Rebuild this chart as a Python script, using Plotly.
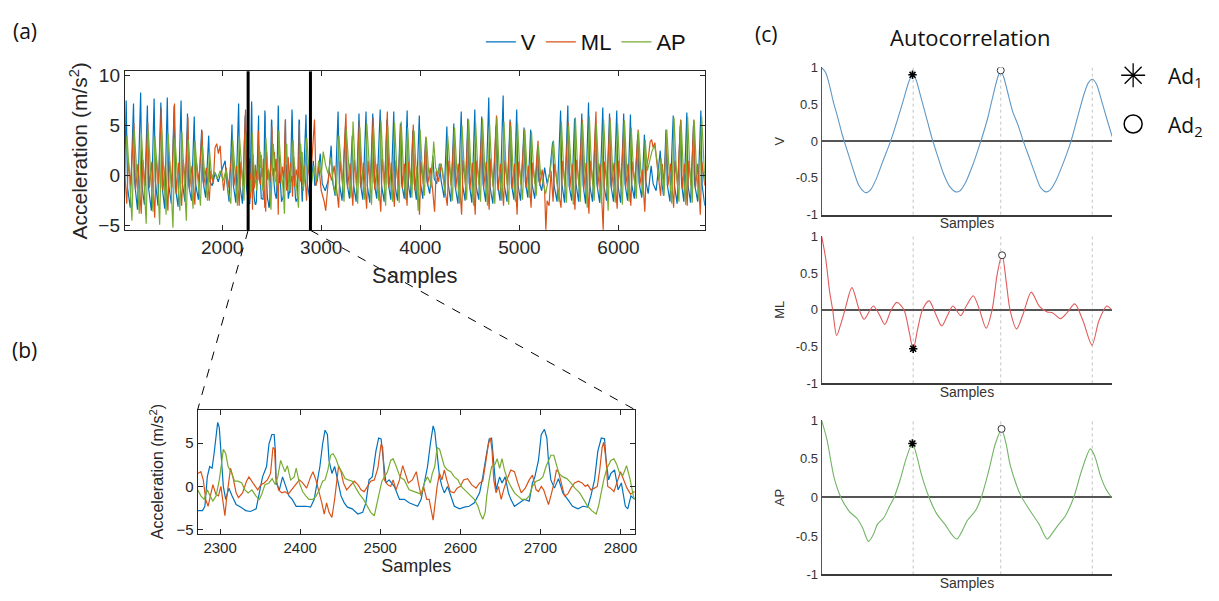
import plotly.graph_objects as go

# ------------------------------------------------------------------ DATA
# (a) full recording: (sample, acceleration) vertices, before and after the zoomed window
v_pre = [(1015,-1.0),(1031,7.5),(1045,-1.2),(1072,-3.2),(1105,7.2),(1118,-0.8),(1145,-3.4),(1177,8.3),(1190,-1.0),
         (1215,-2.9),(1245,7.0),(1258,-1.3),(1285,-3.5),(1313,7.7),(1326,-0.6),(1352,-3.0),(1381,7.3),(1394,-1.1),
         (1420,-3.3),(1446,7.8),(1460,-0.9),(1487,-2.8),(1515,7.0),(1528,-1.2),(1555,-3.1),(1585,7.5),(1598,-0.7),
         (1624,-2.6),(1650,6.2),(1663,-1.0),(1690,-2.5),(1718,5.9),(1731,-0.8),(1760,-2.4),(1793,4.6),(1806,-0.5),
         (1833,-2.2),(1864,4.0),(1877,-0.6),(1900,-1.0),(1930,0.3),(1960,-0.6),(1990,0.4),(2030,1.5),(2045,-0.5),
         (2070,-2.6),(2099,5.1),(2112,-0.9),(2138,-2.7),(2166,7.2),(2179,-1.0),(2205,-2.8),(2232,6.0),(2245,-1.2),
         (2268,-2.8)]
v_post = [(2846,6.1),(2859,-0.8),(2885,-2.4),(2920,1.5),(2935,-1.0),(2960,-0.5),(2990,2.2),(3010,-0.8),(3040,-1.5),
          (3070,-0.5),(3100,3.0),(3115,-0.6),(3140,-2.0),(3170,6.4),(3183,-0.8),(3210,-2.5),(3245,4.9),(3258,-0.6),
          (3285,-2.3),(3313,4.0),(3326,-0.9),(3352,-2.6),(3381,6.2),(3394,-0.7),(3420,-2.4),(3452,6.4),(3465,-1.0),
          (3490,-2.7),(3520,6.2),(3533,-0.6),(3560,-2.3),(3595,6.6),(3608,-0.9),(3635,-2.6),(3663,5.6),(3676,-0.7),
          (3702,-2.4),(3732,6.4),(3745,-1.0),(3770,-2.5),(3799,5.2),(3812,-0.8),(3838,-2.3),(3867,6.5),(3880,-0.9),
          (3900,-2.2),(3925,4.5),(3938,-0.7),(3960,-2.4),(3990,6.0),(4003,-0.8),(4025,-2.3),(4053,3.5),(4066,-0.5),
          (4095,-1.8),(4127,2.0),(4140,-0.3),(4165,-0.8),(4194,1.2),(4210,-0.5),(4240,-2.2),(4268,4.9),(4281,-0.8),
          (4308,-2.6),(4338,5.2),(4351,-1.0),(4380,-2.8),(4413,6.4),(4426,-0.9),(4452,-2.5),(4480,5.7),(4493,-0.7),
          (4520,-2.7),(4550,6.6),(4563,-1.0),(4590,-2.4),(4620,5.9),(4633,-0.8),(4660,-2.6),(4691,7.8),(4704,-1.1),
          (4732,-2.8),(4765,5.0),(4778,-0.7),(4805,-2.5),(4836,8.0),(4849,-1.0),(4875,-2.6),(4906,5.6),(4919,-0.8),
          (4945,-2.4),(4973,6.6),(4986,-0.9),(5012,-2.5),(5047,4.8),(5060,-0.6),(5085,-2.2),(5114,4.6),(5127,-0.8),
          (5155,-2.3),(5184,2.8),(5197,-0.5),(5225,-1.5),(5255,0.8),(5280,-0.8),(5305,0.2),(5336,3.4),(5349,-0.9),
          (5380,-2.6),(5416,6.5),(5429,-0.8),(5456,-2.7),(5489,7.0),(5502,-1.0),(5528,-2.5),(5557,5.7),(5570,-0.7),
          (5598,-2.6),(5630,6.2),(5643,-0.9),(5668,-2.8),(5698,7.3),(5711,-1.0),(5738,-2.6),(5769,5.0),(5782,-0.8),
          (5810,-2.7),(5842,6.8),(5855,-1.1),(5880,-2.5),(5910,6.2),(5923,-0.9),(5950,-2.6),(5983,6.5),(5996,-1.0),
          (6022,-2.7),(6053,6.2),(6066,-0.8),(6092,-2.5),(6121,6.1),(6134,-0.9),(6160,-2.3),(6195,4.1),(6208,-0.7),
          (6235,-2.2),(6262,4.1),(6275,-0.5),(6300,-1.8),(6330,1.0),(6350,-0.8),(6380,-1.5),(6422,2.5),(6435,-0.5),
          (6455,-2.0),(6480,4.6),(6493,-0.9),(6520,-2.6),(6553,6.0),(6566,-1.0),(6592,-2.8),(6624,5.0),(6637,-0.8),
          (6660,-2.6),(6690,6.3),(6703,-1.0),(6728,-2.7),(6757,5.0),(6770,-0.9),(6800,-2.6),(6832,6.5),(6845,-1.0),
          (6872,-3.0)]

ml_pre = [(1015,0.5),(1037,-2.8),(1053,1.5),(1076,-1.0),(1109,5.2),(1125,-1.5),(1150,1.2),(1183,-3.8),(1199,1.6),
          (1222,-1.0),(1249,5.3),(1265,-1.2),(1290,1.4),(1319,-4.2),(1335,1.8),(1358,-0.8),(1385,6.8),(1401,-1.5),
          (1426,1.0),(1452,-3.5),(1468,1.5),(1492,-1.2),(1519,7.2),(1535,-1.8),(1560,1.3),(1591,-3.0),(1607,1.6),
          (1630,-0.8),(1654,5.8),(1670,-1.4),(1695,1.0),(1724,-2.9),(1740,1.4),(1765,-0.6),(1797,4.5),(1813,-1.0),
          (1840,0.8),(1870,-2.5),(1886,0.5),(1910,-0.8),(1928,2.8),(1945,3.2),(1962,2.2),(1980,3.0),(1995,0.5),
          (2015,-1.5),(2040,0.8),(2065,-1.2),(2103,3.0),(2119,-1.0),(2144,1.0),(2172,-3.0),(2188,1.4),(2210,-1.0),
          (2236,6.6),(2252,-1.0),(2268,1.2)]
ml_post = [(2830,1.0),(2852,-2.5),(2868,1.2),(2890,-0.8),(2915,3.0),(2932,5.6),(2948,-1.0),(2975,1.0),(3000,-1.5),
           (3030,-2.6),(3045,-3.5),(3060,-2.0),(3080,0.5),(3105,-0.5),(3130,1.0),(3176,-3.2),(3192,1.5),(3215,-0.9),
           (3249,6.2),(3265,-1.3),(3290,1.2),(3319,-3.0),(3335,1.6),(3358,-1.0),(3385,5.5),(3401,-1.2),(3426,1.3),
           (3458,-3.3),(3474,1.5),(3497,-1.1),(3524,5.8),(3540,-1.4),(3565,1.2),(3601,-3.6),(3617,1.7),(3640,-0.9),
           (3667,6.4),(3683,-1.2),(3708,1.3),(3738,-3.1),(3754,1.5),(3776,-1.0),(3803,5.0),(3819,-1.3),(3840,1.2),
           (3866,-3.0),(3882,1.4),(3905,-0.8),(3929,5.1),(3945,-1.5),(3968,1.0),(3992,-3.9),(4008,1.4),(4030,-0.9),
           (4057,3.9),(4073,-1.0),(4100,0.8),(4125,-1.5),(4144,-3.6),(4160,0.5),(4185,-0.6),(4210,1.2),(4240,-1.0),
           (4272,-3.0),(4288,1.5),(4312,-1.0),(4342,4.5),(4358,-1.3),(4383,1.2),(4417,-3.9),(4433,1.6),(4456,-1.0),
           (4484,5.5),(4500,-1.4),(4525,1.3),(4554,-3.9),(4570,1.5),(4594,-0.9),(4624,5.2),(4640,-1.2),(4665,1.4),
           (4695,-3.4),(4711,1.7),(4735,-1.1),(4769,6.0),(4785,-1.5),(4810,1.2),(4840,-3.0),(4856,1.5),(4880,-1.0),
           (4910,5.4),(4926,-1.3),(4950,1.2),(4977,-3.9),(4993,1.4),(5017,-0.9),(5051,4.6),(5067,-1.2),(5090,1.0),
           (5118,-3.2),(5134,1.3),(5158,-0.8),(5188,3.5),(5204,-1.0),(5230,0.6),(5255,-1.5),(5267,-5.4),(5280,-2.5),
           (5300,-3.0),(5320,0.5),(5340,-2.6),(5356,1.2),(5385,-1.0),(5420,-3.2),(5436,1.5),(5460,-1.0),(5493,5.3),
           (5509,-1.3),(5533,1.2),(5561,-3.4),(5577,1.6),(5602,-1.0),(5634,5.6),(5650,-1.4),(5674,1.3),(5702,-3.8),
           (5718,1.5),(5742,-0.9),(5773,6.4),(5789,-1.3),(5814,1.2),(5846,-5.4),(5860,1.4),(5884,-1.0),(5914,5.8),
           (5930,-1.3),(5955,1.3),(5987,-3.3),(6003,1.5),(6026,-1.0),(6057,5.5),(6073,-1.2),(6096,1.2),(6125,-3.0),
           (6141,1.4),(6165,-0.8),(6199,4.6),(6215,-1.0),(6240,0.6),(6266,-3.6),(6282,0.8),(6305,2.0),(6320,3.4),
           (6335,3.6),(6350,2.8),(6368,3.3),(6385,1.5),(6405,-0.5),(6426,-2.0),(6442,1.2),(6460,-0.8),(6484,3.8),
           (6500,-1.0),(6525,1.2),(6557,-3.2),(6573,1.5),(6597,-1.0),(6628,5.6),(6644,-1.3),(6668,1.2),(6694,-3.0),
           (6710,1.5),(6733,-1.0),(6761,5.6),(6777,-1.3),(6800,1.2),(6826,-3.9),(6842,1.4),(6872,-1.0)]

ap_pre = [(1015,0.5),(1039,4.0),(1061,0.5),(1089,-4.5),(1113,4.5),(1135,0.8),(1163,-3.8),(1185,4.2),(1207,0.5),
          (1233,-4.8),(1253,4.6),(1275,0.6),(1301,-3.6),(1321,3.9),(1343,0.8),(1369,-4.9),(1389,4.8),(1411,0.4),
          (1434,-3.9),(1454,4.2),(1476,0.7),(1503,-5.2),(1523,3.8),(1545,0.5),(1573,-3.5),(1593,4.4),(1615,0.6),
          (1638,-4.5),(1658,3.6),(1680,0.5),(1706,-3.3),(1726,3.5),(1748,0.3),(1781,-3.0),(1801,3.0),(1823,0.2),
          (1852,-2.5),(1872,2.5),(1895,-0.3),(1920,0.4),(1950,-0.3),(1980,0.5),(2010,-0.5),(2040,0.6),(2060,-1.5),
          (2087,-2.8),(2107,3.6),(2129,0.5),(2154,-3.0),(2174,4.0),(2196,0.6),(2220,-2.5),(2240,4.2),(2262,0.8),
          (2268,0.0)]
ap_post = [(2830,-0.5),(2854,3.8),(2876,0.6),(2900,-1.0),(2925,1.0),(2950,-0.5),(2975,1.5),(3000,0.0),(3020,2.4),
           (3045,1.0),(3070,0.2),(3100,1.8),(3120,-0.8),(3150,-2.0),(3178,4.0),(3200,0.8),(3230,-2.6),(3253,4.6),
           (3275,0.8),(3300,-2.2),(3321,5.4),(3343,0.7),(3368,-2.8),(3389,4.8),(3411,0.6),(3440,-2.4),(3460,5.2),
           (3482,0.9),(3508,-2.9),(3528,4.9),(3550,0.7),(3580,-2.5),(3603,5.5),(3625,0.8),(3650,-3.0),(3671,5.0),
           (3693,0.6),(3720,-2.6),(3740,5.3),(3762,0.8),(3787,-2.7),(3807,5.4),(3829,0.7),(3852,-2.4),(3872,4.8),
           (3894,0.6),(3915,-2.2),(3937,4.5),(3959,0.7),(3978,-3.5),(3998,4.6),(4020,0.6),(4042,-2.0),(4061,3.8),
           (4083,0.5),(4110,-1.2),(4135,3.4),(4155,0.8),(4180,0.2),(4200,1.2),(4225,0.5),(4250,-1.8),(4276,4.0),
           (4298,0.6),(4325,-2.5),(4346,4.8),(4368,0.7),(4398,-2.8),(4421,5.0),(4443,0.8),(4468,-2.4),(4488,5.6),
           (4510,0.8),(4538,-3.0),(4558,5.3),(4580,0.6),(4608,-2.6),(4628,5.7),(4650,0.8),(4678,-3.0),(4699,5.2),
           (4721,0.7),(4752,-2.8),(4773,5.8),(4795,0.8),(4822,-2.5),(4844,5.4),(4866,0.7),(4892,-2.9),(4914,5.0),
           (4936,0.6),(4960,-2.6),(4981,5.3),(5003,0.7),(5032,-2.4),(5055,4.6),(5077,0.6),(5100,-2.2),(5122,4.4),
           (5144,0.5),(5170,-2.0),(5192,3.0),(5214,0.2),(5240,-0.8),(5265,-1.8),(5290,-0.5),(5315,0.8),(5344,3.5),
           (5366,0.5),(5400,-2.6),(5424,5.4),(5446,0.8),(5475,-2.7),(5497,5.0),(5519,0.7),(5545,-2.9),(5565,5.8),
           (5587,0.8),(5615,-2.6),(5638,5.3),(5660,0.6),(5685,-3.2),(5706,5.9),(5728,0.8),(5755,-2.5),(5777,5.1),
           (5799,0.7),(5828,-2.8),(5850,5.6),(5872,0.7),(5896,-3.5),(5918,5.4),(5940,0.8),(5968,-2.7),(5991,5.2),
           (6013,0.7),(6040,-2.9),(6061,5.5),(6083,0.8),(6108,-2.6),(6129,4.8),(6151,0.6),(6180,-2.3),(6203,4.4),
           (6225,0.6),(6248,-2.0),(6270,3.6),(6292,0.5),(6315,1.5),(6340,2.5),(6365,3.0),(6390,1.5),(6410,-0.5),
           (6430,1.8),(6460,-2.0),(6488,4.6),(6510,0.7),(6538,-2.8),(6561,5.8),(6583,0.8),(6610,-2.6),(6632,5.5),
           (6654,0.7),(6678,-2.9),(6698,5.9),(6720,0.8),(6745,-2.7),(6765,5.5),(6787,0.7),(6815,-2.5),(6840,5.9),
           (6862,0.8),(6872,-0.5)]

# (b) zoomed window 2272-2818
v_zoom = [(2272,-2.8),(2278,-2.8),(2281,-2.3),(2284,1.1),(2287,2.3),(2290,2.1),(2292.5,3.8),(2297,7.4),(2299,6.8),
          (2302,3.0),(2304,0.0),(2307,-1.5),(2311,-0.2),(2315,-1.1),(2320,-2.1),(2326,-2.4),(2332,-2.8),(2338,-2.9),
          (2345,-2.6),(2349,-0.75),(2353,1.1),(2358,2.3),(2361,4.9),(2364.6,6.0),(2367.5,6.0),(2369,4.1),(2370,0.4),
          (2374,-0.4),(2378,1.1),(2382,0.0),(2386,-1.1),(2390,-1.5),(2395,-2.3),(2401,-2.3),(2407,-2.3),(2413,-2.4),
          (2417.5,-1.5),(2421.7,0.75),(2424.6,2.3),(2428,4.9),(2431,6.5),(2434,6.0),(2436,3.0),(2439.6,1.5),(2443,2.3),
          (2446.7,0.75),(2451,-1.1),(2455,-1.9),(2459,-2.4),(2465,-2.6),(2472,-3.2),(2478,-3.0),(2482,-1.9),(2486,0.75),
          (2490,1.1),(2494.6,4.1),(2498,5.6),(2501,5.5),(2504,3.0),(2507,0.4),(2511,0.75),(2517.5,0.0),(2524,-1.5),
          (2530,-1.5),(2536,-1.9),(2542.5,-2.2),(2546.7,-2.3),(2551,-1.5),(2555,0.4),(2559,2.3),(2562.5,4.9),(2566,7.0),
          (2568,6.4),(2571,3.4),(2574,1.1),(2577,0.0),(2580,-0.75),(2584,0.0),(2588,-1.1),(2592.5,-2.3),(2599,-2.6),
          (2605,-2.4),(2611,-2.3),(2617.5,-1.9),(2624,-0.75),(2628,1.1),(2632,3.4),(2636,5.5),(2639,5.6),(2641.7,3.0),
          (2644.6,-0.4),(2649,1.1),(2652,0.4),(2656,1.1),(2660,-0.75),(2663,-1.5),(2667.5,-2.3),(2674,-1.9),(2680,-1.5),
          (2686,-1.7),(2690,0.4),(2693,1.1),(2697.5,3.0),(2701,6.0),(2705,6.6),(2708,5.6),(2710,3.0),(2713,0.75),
          (2717.5,-0.2),(2722.5,0.9),(2728,-0.75),(2734,-1.5),(2740,-2.3),(2747,-2.6),(2753,-2.3),(2759,-2.4),(2763,-1.1),
          (2767.5,0.75),(2771.7,4.1),(2776,5.6),(2780,5.5),(2782,3.0),(2785,0.75),(2788,1.5),(2792.5,1.9),(2797,-0.4),
          (2801,0.4),(2806,-2.3),(2809,-2.6),(2813,-1.1),(2817.5,-1.5)]
ml_zoom = [(2272,1.5),(2276,1.7),(2279,0.75),(2282,-1.5),(2285,-2.3),(2288,-1.1),(2291,0.2),(2294.6,-0.9),(2298,-1.1),
           (2301,0.0),(2303,-1.5),(2306,-3.4),(2308,-1.5),(2311,1.1),(2313,2.1),(2316,1.1),(2320,-0.75),(2323,-1.3),
           (2328,-0.75),(2333,0.6),(2336,1.1),(2341,0.4),(2347,-0.4),(2351,0.2),(2355,0.4),(2359,0.75),(2363,1.5),
           (2366,4.5),(2368,4.3),(2369.6,1.1),(2373,-0.4),(2377,-0.75),(2381,-0.6),(2385,-0.9),(2389.6,-0.4),(2394,0.2),
           (2399,0.75),(2403,0.4),(2408,-0.2),(2413,1.1),(2416,1.7),(2419.6,0.75),(2424,-0.75),(2427,-1.9),(2430,-3.2),
           (2433,-1.9),(2436,-3.0),(2439.6,-3.6),(2443,-1.5),(2445,0.4),(2448,2.4),(2451,1.7),(2454,0.4),(2458,-0.4),
           (2462,0.0),(2467.5,0.6),(2472,0.2),(2476,-0.4),(2480,-0.6),(2484,0.0),(2488,0.6),(2492.5,0.75),(2497,2.1),
           (2501,4.9),(2503,4.5),(2505,0.75),(2509,0.2),(2513,0.0),(2516,0.75),(2519.6,-0.4),(2524,0.75),(2528,2.4),
           (2531,1.5),(2535,0.4),(2540,0.75),(2545,1.7),(2547.5,0.4),(2551,-1.1),(2554,0.0),(2558,-1.5),(2561,-1.5),
           (2564,-3.0),(2566,-3.9),(2568,-2.3),(2571,0.0),(2574,1.5),(2577,0.75),(2580,1.9),(2583,0.75),(2587.5,-0.6),
           (2592,-0.75),(2596,-0.2),(2600,0.0),(2604,0.75),(2609,0.9),(2614,0.2),(2619.6,-0.2),(2624,0.4),(2628,0.6),
           (2632,3.0),(2635,4.9),(2637.5,5.6),(2639.6,4.1),(2641.7,0.75),(2644.6,-0.75),(2647.5,0.0),(2651,-1.5),
           (2654,-0.4),(2658,0.75),(2663,1.9),(2667.5,1.7),(2671.7,0.4),(2676,-0.75),(2681,-0.2),(2686,0.75),(2690,1.3),
           (2694.6,-0.4),(2697.5,-0.6),(2701,0.0),(2704,-0.4),(2707.5,-1.5),(2710,-2.1),(2713,-1.1),(2717,0.4),(2720,1.9),
           (2722.5,1.7),(2726,0.4),(2730,-1.1),(2734,-0.9),(2738,-0.2),(2742.5,0.4),(2747.5,0.6),(2752,0.4),(2756,0.0),
           (2759,0.2),(2763,-0.4),(2767.5,-0.2),(2771,0.0),(2774,1.9),(2777,4.5),(2779,5.1),(2782,3.0),(2784,0.0),
           (2787.5,-0.2),(2791.7,-0.6),(2796,0.6),(2800,1.7),(2804,0.75),(2808,-0.2),(2812.5,-0.9),(2817.5,-0.6)]
ap_zoom = [(2272,-0.4),(2276,-1.1),(2280,-1.5),(2284,-0.4),(2287.5,-1.1),(2291,-1.7),(2295,-1.1),(2299,0.75),(2301.7,2.6),
           (2304,4.3),(2307,3.8),(2310,2.3),(2314.6,1.5),(2318,0.6),(2322.5,0.6),(2327,0.4),(2331,-0.4),(2335,-0.75),
           (2339.6,-0.4),(2344.6,-1.1),(2349,-1.5),(2352,-0.9),(2356,0.2),(2361,0.4),(2365,0.9),(2369,0.2),(2372,1.1),
           (2375.6,3.0),(2378,2.4),(2381,1.7),(2384,2.4),(2388,0.75),(2392.5,1.1),(2395,2.1),(2399,0.4),(2403,-0.6),
           (2407,-1.1),(2411,-1.5),(2416,-1.5),(2420,-1.1),(2424,-0.4),(2428,0.6),(2431,0.75),(2434.6,1.9),(2438,3.6),
           (2441,3.8),(2444.6,3.2),(2448,2.3),(2452,1.7),(2456,0.9),(2460,0.75),(2465,0.6),(2469.6,-0.2),(2474,-0.9),
           (2479,-1.5),(2484,-2.3),(2488,-3.0),(2492.5,-3.4),(2495,-2.3),(2499,-0.4),(2502,0.6),(2505.4,1.1),(2509,1.7),
           (2513,3.0),(2516,3.2),(2520,2.3),(2524.6,1.1),(2530,0.75),(2536,-0.4),(2542.5,-0.6),(2546.7,-0.75),(2551,-0.9),
           (2555,0.4),(2559,1.1),(2562.5,0.4),(2565,1.5),(2568,2.3),(2571,4.5),(2574,4.3),(2577,3.4),(2580,2.3),(2584,1.9),
           (2588,1.7),(2592.5,1.1),(2597,0.75),(2601,0.0),(2605,-0.4),(2609,-0.75),(2613,-1.1),(2617.5,-1.5),(2622,-2.3),
           (2625,-3.2),(2628,-3.8),(2631,-3.0),(2633,-1.1),(2636,0.75),(2639,2.3),(2642.5,2.4),(2646,3.2),(2649,2.1),
           (2652,3.2),(2655,1.9),(2659,0.75),(2663,0.0),(2667.5,-0.75),(2671.7,-1.1),(2676.7,-1.5),(2682,-1.5),(2686,-1.1),
           (2690,0.0),(2694.6,0.6),(2699,0.75),(2703,1.1),(2707,2.3),(2710,3.0),(2713,3.6),(2716.7,3.6),(2720,2.6),
           (2723,1.5),(2728,1.1),(2733,0.9),(2738,0.4),(2743,-0.2),(2749,-0.75),(2754,-1.5),(2759,-2.3),(2764,-2.8),
           (2769.6,-3.2),(2772.5,-2.3),(2776,-0.4),(2779,0.75),(2783,2.1),(2788,3.0),(2791.7,3.2),(2795,2.6),(2799,1.5),
           (2803,1.3),(2807.5,2.4),(2811.7,0.9),(2816,-1.1),(2817.5,-1.5)]

zoom_marks = [2262, 2891]          # black window markers in (a)

# (c) autocorrelation (lag in samples, coefficient)
ac_v = [(0,1.0),(3,0.93),(6,0.75),(9,0.52),(12,0.33),(15,0.12),(17,0.0),(20,-0.17),(24,-0.40),(28,-0.60),(32,-0.69),
        (34,-0.70),(37,-0.66),(41,-0.52),(46,-0.28),(52,0.0),(57,0.28),(62,0.58),(66,0.82),(68.5,0.90),(71,0.84),
        (74,0.65),(77,0.45),(80,0.25),(83,0.05),(87,-0.18),(92,-0.45),(97,-0.63),(101,-0.69),(104,-0.68),(108,-0.58),
        (113,-0.37),(120,0.0),(125,0.3),(130,0.68),(133,0.88),(135,0.95),(137,0.88),(140,0.68),(144,0.40),(148,0.22),
        (152,0.0),(156,-0.2),(161,-0.45),(165,-0.63),(169,-0.69),(172,-0.67),(176,-0.56),(181,-0.35),(188,0.0),
        (193,0.33),(198,0.65),(201,0.79),(204,0.84),(207,0.78),(211,0.55),(215,0.30),(219,0.06)]
ac_ml = [(0,1.0),(3,0.7),(6,0.25),(8.3,0.0),(11.3,-0.35),(14,-0.22),(17.6,0.0),(22.8,0.30),(28.3,0.0),(32,-0.13),
         (36,-0.02),(39,0.05),(43,-0.05),(47.6,-0.20),(52,-0.02),(56.6,0.10),(62,0.0),(66,-0.30),(69,-0.54),
         (72.5,-0.25),(76,0.0),(81,0.12),(86,-0.06),(90.5,-0.22),(95,-0.07),(99,0.05),(104.8,-0.08),(109,0.05),
         (114.3,0.19),(119,0.0),(124,-0.25),(128.5,0.0),(132.5,0.5),(136,0.75),(139,0.4),(142,0.0),(147,-0.26),
         (152,-0.05),(158,0.24),(164,0.05),(170,-0.03),(174,-0.04),(180,-0.12),(185,-0.04),(190.8,0.08),(197,-0.15),
         (203.8,-0.48),(209,-0.15),(215,0.05),(218.5,0.0)]
ac_ap = [(0,1.0),(4,0.75),(9.5,0.25),(14.5,0.0),(20.8,-0.18),(27,-0.28),(31,-0.40),(35.3,-0.57),(39,-0.48),(42,-0.35),
         (47,-0.26),(51,-0.12),(54.6,0.0),(59,0.22),(64,0.52),(68.4,0.70),(72,0.52),(74.7,0.33),(81,0.0),(87,-0.22),
         (93,-0.35),(98,-0.48),(101.8,-0.54),(105.5,-0.45),(109.8,-0.30),(116,-0.17),(120.3,0.0),(126,0.35),(131,0.70),
         (135.6,0.88),(139,0.70),(142.3,0.41),(150,0.03),(157.4,-0.18),(164,-0.35),(170,-0.54),(174,-0.46),(178.7,-0.35),
         (183.7,-0.24),(190,0.0),(196,0.35),(202.6,0.63),(206,0.53),(210,0.29),(214,0.12),(218.5,0.0)]
step_lags = [69, 135, 204]
ad1_lag = [68.5, 69, 68.4]
ad1_val = [0.90, -0.53, 0.70]
ad2_lag = [135, 136, 135.6]
ad2_val = [0.96, 0.74, 0.89]

names = ["V", "ML", "AP"]
colors_ab = ["#0072BD", "#D95319", "#77AC30"]
colors_c = ["#5f98c6", "#e05b5b", "#72b566"]

# ------------------------------------------------------------------ FIGURE
W, H = 1219, 601
FONT = "Liberation Sans"
CAL = "Open Sans"


def xs(p):
    return [a for a, _ in p]


def ys(p):
    return [b for _, b in p]


def dom_x(a, b):
    return [a / W, b / W]


def dom_y(top, bottom):
    return [1 - bottom / H, 1 - top / H]


fig = go.Figure()

full = [v_pre + v_zoom + v_post, ml_pre + ml_zoom + ml_post, ap_pre + ap_zoom + ap_post]
for n, c, s in zip(names, colors_ab, full):
    fig.add_trace(go.Scatter(x=xs(s), y=ys(s), mode="lines", name=n, line=dict(color=c, width=1.2),
                             xaxis="x", yaxis="y", showlegend=True))
for n, c, s in zip(names, colors_ab, [v_zoom, ml_zoom, ap_zoom]):
    fig.add_trace(go.Scatter(x=xs(s), y=ys(s), mode="lines", name=n, line=dict(color=c, width=1.2),
                             xaxis="x2", yaxis="y2", showlegend=False))

for i, (c, s) in enumerate(zip(colors_c, [ac_v, ac_ml, ac_ap])):
    ax = str(i + 3)
    for L in step_lags:
        fig.add_shape(type="line", xref="x" + ax, yref="y" + ax, x0=L, x1=L, y0=-1, y1=1,
                      line=dict(color="#b4b4b4", width=0.8, dash="dot"), layer="below")
    fig.add_trace(go.Scatter(x=xs(s), y=ys(s), mode="lines", line=dict(color=c, width=1.1, shape="spline", smoothing=0.8),
                             xaxis="x" + ax, yaxis="y" + ax, showlegend=False))
    fig.add_trace(go.Scatter(x=[ad1_lag[i]], y=[ad1_val[i]], mode="markers",
                             marker=dict(symbol="asterisk-open", size=7, color="black", line=dict(color="black", width=1.6)),
                             xaxis="x" + ax, yaxis="y" + ax, showlegend=False))
    fig.add_trace(go.Scatter(x=[ad2_lag[i]], y=[ad2_val[i]], mode="markers",
                             marker=dict(symbol="circle", size=7, color="white", line=dict(color="#333", width=1)),
                             xaxis="x" + ax, yaxis="y" + ax, showlegend=False))

# legend glyphs for Ad1 / Ad2 (auxiliary axis)
fig.add_trace(go.Scatter(x=[0], y=[1], mode="markers", xaxis="x6", yaxis="y6", showlegend=False,
                         marker=dict(symbol="asterisk-open", size=20, color="black", line=dict(color="black", width=1.3))))
fig.add_trace(go.Scatter(x=[0], y=[0], mode="markers", xaxis="x6", yaxis="y6", showlegend=False,
                         marker=dict(symbol="circle-open", size=18, color="black", line=dict(color="black", width=1.5))))

axcol = "#262626"
common_ab = dict(showline=True, linecolor=axcol, linewidth=1, mirror="ticks", ticks="inside", ticklen=5,
                 tickcolor=axcol, showgrid=False, zeroline=False)

xa_rng = [1017, 6872]
ya_rng = [-5.45, 10.42]
xa_dom = dom_x(125, 706)
ya_dom = dom_y(66, 229)
xb_rng = [2272, 2818]
yb_rng = [-5.45, 8.87]
xb_dom = dom_x(198, 636)
yb_dom = dom_y(413, 540)

layout = dict(
    width=W, height=H, margin=dict(l=0, r=0, t=0, b=0),
    paper_bgcolor="white", plot_bgcolor="white",
    font=dict(family=FONT, color=axcol),
    showlegend=True,
    legend=dict(orientation="h", x=692 / W, xanchor="right", y=1 - 36 / H, yanchor="middle",
                font=dict(size=22, family=FONT, color="#111"), bgcolor="rgba(0,0,0,0)", itemwidth=30),
    xaxis=dict(domain=xa_dom, range=xa_rng, tickvals=[2000, 3000, 4000, 5000, 6000], anchor="y",
               tickfont=dict(size=19), title=dict(text="Samples", font=dict(size=22), standoff=10), **common_ab),
    yaxis=dict(domain=ya_dom, range=ya_rng, tickvals=[-5, 0, 5, 10], anchor="x",
               tickfont=dict(size=19), title=dict(text="Acceleration (m/s<sup>2</sup>)", font=dict(size=21), standoff=4),
               **common_ab),
    xaxis2=dict(domain=xb_dom, range=xb_rng, tickvals=[2300, 2400, 2500, 2600, 2700, 2800], anchor="y2",
                tickfont=dict(size=15), title=dict(text="Samples", font=dict(size=18), standoff=4), **common_ab),
    yaxis2=dict(domain=yb_dom, range=yb_rng, tickvals=[-5, 0, 5], anchor="x2",
                tickfont=dict(size=15), title=dict(text="Acceleration (m/s<sup>2</sup>)", font=dict(size=16), standoff=8),
                **common_ab),
    xaxis6=dict(domain=dom_x(1122, 1148), range=[-1, 1], visible=False, anchor="y6"),
    yaxis6=dict(domain=dom_y(45, 145), range=[-0.5, 1.5], visible=False, anchor="x6"),
)

c_rows = [(62, 213, "V"), (235, 386, "ML"), (424, 582, "AP")]
for i, (top, bot, lab) in enumerate(c_rows):
    k = str(i + 3)
    layout["xaxis" + k] = dict(domain=dom_x(823, 1114), range=[0, 219], anchor="y" + k, showticklabels=False,
                               ticks="", showline=True, linecolor="#3a3a3a", linewidth=1.6, showgrid=False,
                               zeroline=False, title=dict(text="Samples", font=dict(size=14, color="#333"), standoff=3))
    layout["yaxis" + k] = dict(domain=dom_y(top, bot), range=[-1, 1], anchor="x" + k,
                               tickvals=[-1, -0.5, 0, 0.5, 1], ticktext=["-1", "-0.5", "0", "0.5", "1"],
                               tickfont=dict(size=13, color="#333"), ticks="", showline=True, linecolor="#555",
                               linewidth=1, showgrid=False, zeroline=True, zerolinecolor="#555", zerolinewidth=1.6,
                               title=dict(text=lab, font=dict(size=13, color="#333"), standoff=8))

fig.update_layout(**layout)

# black window markers in (a)
for s in zoom_marks:
    fig.add_shape(type="line", xref="x", yref="y domain", x0=s, x1=s, y0=0, y1=1, line=dict(color="black", width=3))


# dashed connectors from (a) window to (b)
def a_to_paper(s):
    return xa_dom[0] + (s - xa_rng[0]) / (xa_rng[1] - xa_rng[0]) * (xa_dom[1] - xa_dom[0])


for s, xb in zip(zoom_marks, [xb_dom[0], xb_dom[1]]):
    fig.add_shape(type="line", xref="paper", yref="paper", x0=a_to_paper(s), y0=ya_dom[0], x1=xb, y1=yb_dom[1],
                  line=dict(color="black", width=1, dash="dash"))

annots = [
    dict(text="(a)", x=25 / W, y=1 - 25 / H),
    dict(text="(b)", x=25 / W, y=1 - 352 / H),
    dict(text="(c)", x=767 / W, y=1 - 28 / H),
]
for a in annots:
    fig.add_annotation(xref="paper", yref="paper", showarrow=False, xanchor="center", yanchor="middle",
                       font=dict(family=CAL, size=21, color="#111"), **a)
fig.add_annotation(xref="paper", yref="paper", x=972 / W, y=1 - 31 / H, text="Autocorrelation", showarrow=False,
                   font=dict(family=CAL, size=22, color="#111"), xanchor="center", yanchor="middle")
fig.add_annotation(xref="paper", yref="paper", x=1168 / W, y=1 - 72 / H, text="Ad<sub>1</sub>", showarrow=False,
                   font=dict(family=CAL, size=21, color="#111"), xanchor="left", yanchor="middle")
fig.add_annotation(xref="paper", yref="paper", x=1168 / W, y=1 - 122 / H, text="Ad<sub>2</sub>", showarrow=False,
                   font=dict(family=CAL, size=21, color="#111"), xanchor="left", yanchor="middle")

fig.write_html("out.html", config={"displayModeBar": False},
               post_script="document.body.style.margin='0px';document.body.style.overflow='hidden';")
